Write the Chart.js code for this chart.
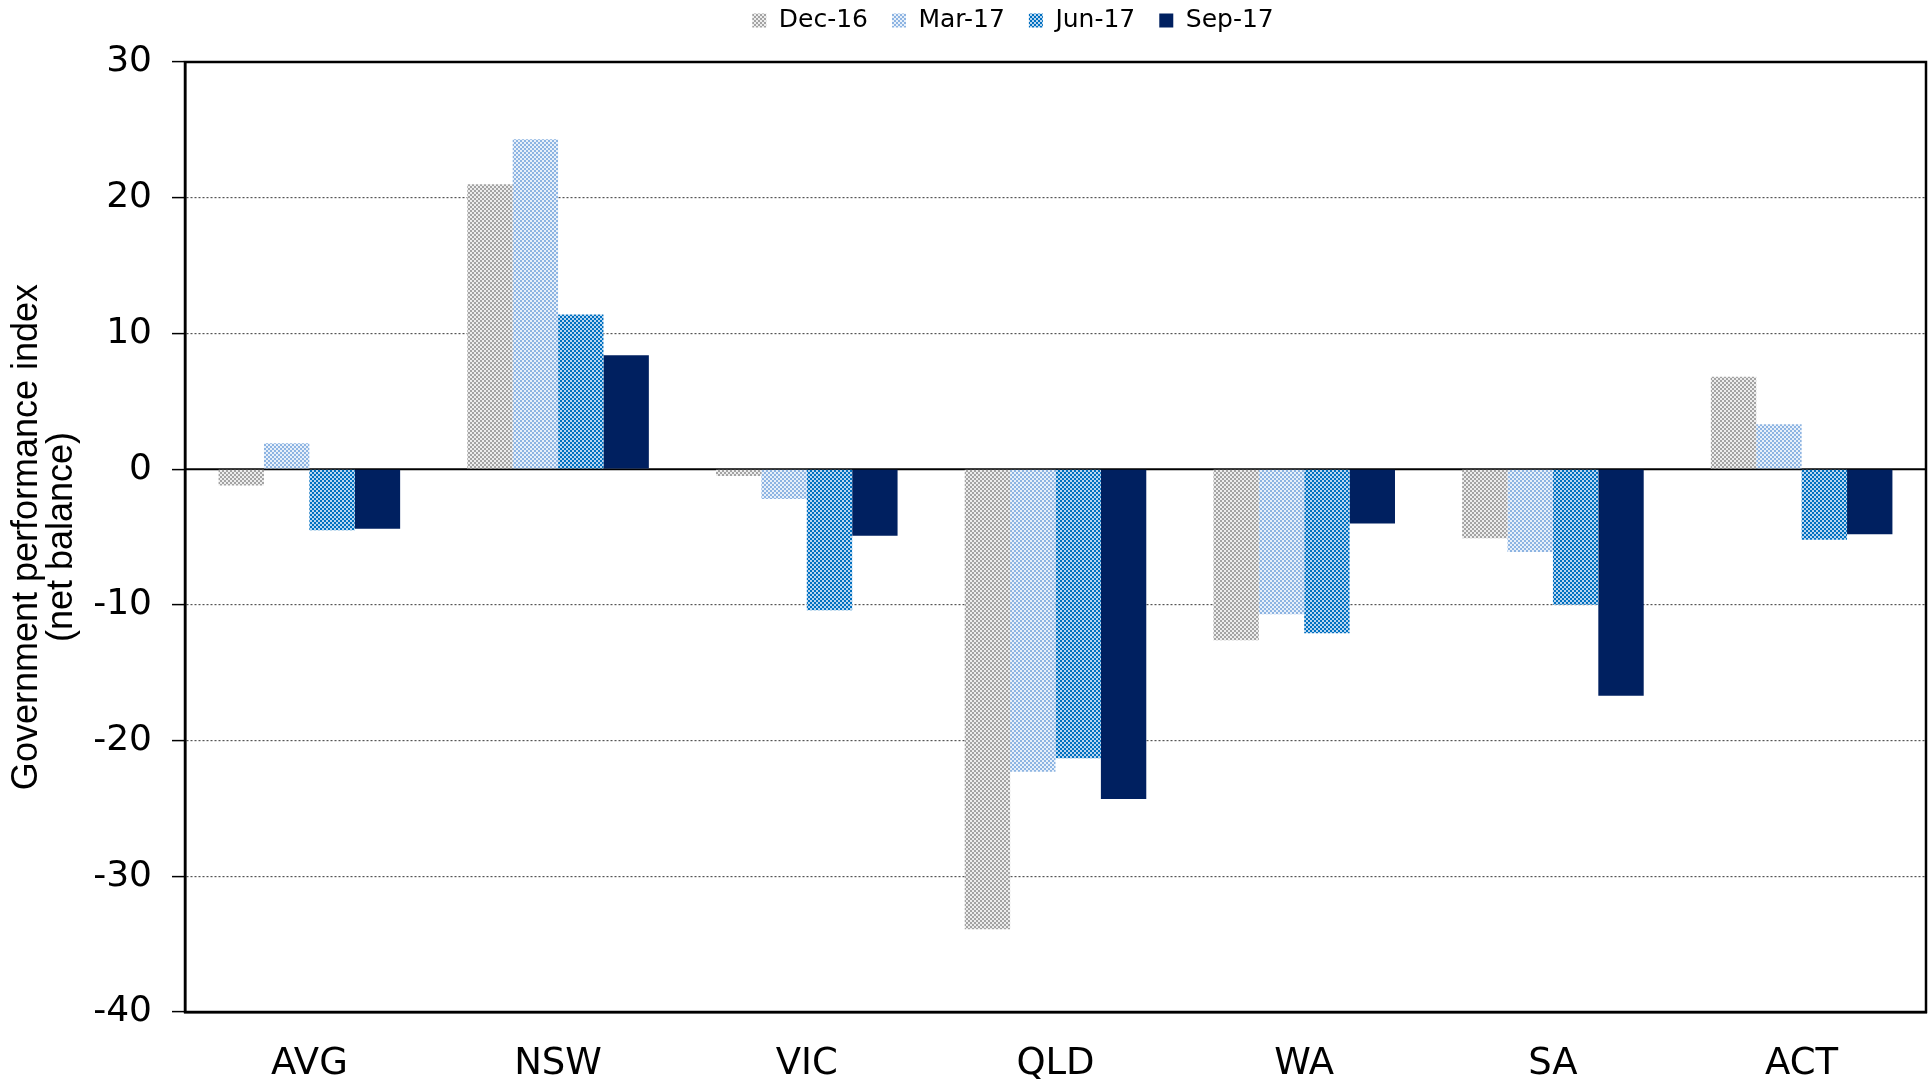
<!DOCTYPE html>
<html>
<head>
<meta charset="utf-8">
<script src="https://cdn.jsdelivr.net/npm/chart.js@4.4.0/dist/chart.umd.min.js"></script>
<style>
  body { margin: 0; background: #fff; }
</style>
</head>
<body>
<canvas id="chart" width="1929" height="1081"></canvas>
<script>
    "use strict";

    // Data
    var states = ["AVG", "NSW", "VIC", "QLD", "WA", "SA", "ACT"];
    var seriesNames = ["Dec-16", "Mar-17", "Jun-17", "Sep-17"];
    var dec16 = [-1.2, 21.0, -0.5, -33.9, -12.6, -5.1, 6.8];
    var mar17 = [1.9, 24.3, -2.2, -22.3, -10.7, -6.1, 3.3];
    var jun17 = [-4.5, 11.4, -10.4, -21.3, -12.1, -10.0, -5.2];
    var sep17 = [-4.4, 8.4, -4.9, -24.3, -4.0, -16.7, -4.8];
    var yTicks = [-40, -30, -20, -10, 0, 10, 20, 30];

    // checker fill like the excel patterns
    var checker = function (dark, light) {
        var c = document.createElement("canvas");
        c.width = 4;
        c.height = 4;
        var g = c.getContext("2d");
        g.fillStyle = light;
        g.fillRect(0, 0, 4, 4);
        g.fillStyle = dark;
        g.fillRect(0, 0, 2, 2);
        g.fillRect(2, 2, 2, 2);
        return g.createPattern(c, "repeat");
    };

    var fills = [
        checker("#a3a3a3", "#ededed"),
        checker("#8db4e2", "#e8f0fa"),
        checker("#0070c0", "#b9d6f0"),
        "#002060"
    ];
    var values = [dec16, mar17, jun17, sep17];

    // Legend takes the full strip above the plot, shifted a bit right
    var legendSpace = {
        id: "legendSpace",
        beforeLayout: function (chart) {
            var lg = chart.legend;
            if (lg && !lg._patched) {
                var fit = lg.fit;
                lg.fit = function () {
                    fit.call(this);
                    this.height = 78;
                };
                var draw = lg.draw;
                lg.draw = function () {
                    this.ctx.save();
                    this.ctx.translate(50, 0);
                    draw.call(this);
                    this.ctx.restore();
                };
                lg._patched = true;
            }
        }
    };

    // Frame + zero line
    var framePlugin = {
        id: "frame",
        beforeDatasetsDraw: function (chart) {
            var ctx = chart.ctx;
            var area = chart.chartArea;
            var y0 = chart.scales.y.getPixelForValue(0);
            ctx.save();
            ctx.strokeStyle = "#000";
            ctx.lineWidth = 2;
            ctx.beginPath();
            ctx.moveTo(area.left, y0);
            ctx.lineTo(area.right, y0);
            ctx.stroke();
            ctx.restore();
        },
        afterDraw: function (chart) {
            var ctx = chart.ctx;
            var area = chart.chartArea;
            ctx.save();
            ctx.strokeStyle = "#000";
            ctx.lineWidth = 2.5;
            ctx.strokeRect(area.left, area.top, area.right - area.left, area.bottom - area.top);
            ctx.restore();
        }
    };

    var ctx1 = document.getElementById("chart").getContext("2d");
    var myChart1 = new Chart(ctx1, {
        type: "bar",
        data: {
            labels: states,
            datasets: seriesNames.map(function (name, i) {
                return {
                    label: name,
                    data: values[i],
                    backgroundColor: fills[i],
                    borderWidth: 0,
                    categoryPercentage: 0.73,
                    barPercentage: 1.0
                };
            })
        },
        options: {
            responsive: false,
            animation: false,
            layout: { padding: { top: -16, right: 3, left: 0, bottom: 0 } },
            plugins: {
                legend: {
                    position: "top",
                    labels: {
                        font: { family: "DejaVu Sans", size: 25 },
                        color: "#000",
                        boxWidth: 14,
                        boxHeight: 14,
                        padding: 24
                    }
                },
                tooltip: { enabled: false }
            },
            scales: {
                x: {
                    grid: { display: false },
                    border: { display: true, color: "#000", width: 2.5 },
                    ticks: {
                        color: "#000",
                        font: { family: "DejaVu Sans", size: 37 },
                        padding: 22
                    },
                    afterFit: function (scale) { scale.height = 69; }
                },
                y: {
                    min: -40,
                    max: 30,
                    afterBuildTicks: function (scale) {
                        scale.ticks = yTicks.map(function (v) { return { value: v }; });
                    },
                    grid: {
                        color: function (c) { return c.tick && c.tick.value === 0 ? "rgba(0,0,0,0)" : "#555"; },
                        lineWidth: 1.2,
                        tickLength: 13,
                        tickColor: "#000",
                        tickWidth: 1.5,
                        tickBorderDash: []
                    },
                    border: { display: true, color: "#000", width: 2.5, dash: [2, 2] },
                    ticks: {
                        color: "#000",
                        font: { family: "DejaVu Sans", size: 36 },
                        padding: 20
                    },
                    title: {
                        display: true,
                        text: ["Government performance index", "(net balance)"],
                        color: "#000",
                        font: { family: "'Liberation Sans', Arial, sans-serif", size: 36, lineHeight: 0.97 },
                        padding: { top: 10, bottom: 0 }
                    },
                    afterFit: function (scale) { scale.width = 185; }
                }
            }
        },
        plugins: [legendSpace, framePlugin]
    });
</script>
</body>
</html>
